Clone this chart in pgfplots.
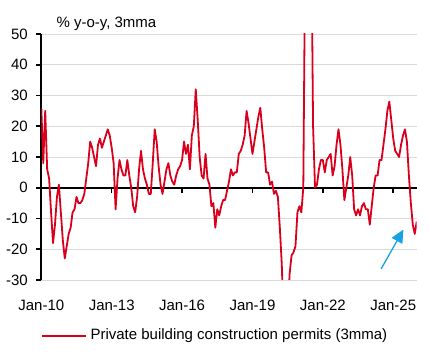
\documentclass[border=0pt]{standalone}
\usepackage{pgfplots}
\pgfplotsset{compat=1.18}
\usepackage{pgfplotstable}
\usepackage{fontspec}
\setmainfont{Liberation Sans}
\usetikzlibrary{arrows.meta}
\definecolor{serred}{RGB}{218,0,29}
\definecolor{gridgray}{RGB}{217,217,217}
\definecolor{arrowblue}{RGB}{22,163,230}
\pgfplotstableread{
m v
0 26
1 8
2 25
3 6
4 3
5 -8
6 -18
7 -12
8 -3
9 1
10 -8
11 -17
12 -23
13 -19
14 -15
15 -13
16 -8
17 -7
18 -3
19 -5
20 -5
21 -4
22 -2
23 3
24 8
25 15
26 13
27 10
28 7
29 14
30 16
31 13
32 15
33 17
34 19
35 17
36 13
37 8
38 -7
39 3
40 9
41 6
42 4
43 4
44 9
45 4
46 0
47 -6
48 -8
49 -3
50 6
51 12
52 6
53 3
54 1
55 -2
56 -2
57 8
58 19
59 15
60 7
61 1
62 -2
63 2
64 6
65 8
66 4
67 2
68 1
69 4
70 6
71 7
72 9
73 15
74 11
75 14
76 6
77 17
78 20
79 32
80 22
81 10
82 4
83 3
84 11
85 3
86 1
87 -6
88 -5
89 -13
90 -7
91 -9
92 -6
93 -4
94 -4
95 -1
96 2
97 6
98 4
99 5
100 5
101 11
102 12
103 14
104 17
105 25
106 21
107 16
108 11
109 15
110 19
111 23
112 26
113 19
114 13
115 5
116 5
117 1
118 2
119 -2
120 -1
121 -3
122 -13
123 -25
124 -45
125 -50
126 -42
127 -28
128 -22
129 -21
130 -19
131 -8
132 -6
133 -8
134 0
135 80
136 110
137 100
138 90
139 20
140 0
141 1
142 6
143 9
144 9
145 5
146 9
147 10
148 11
149 4
150 7
151 14
152 19
153 14
154 6
155 -4
156 0
157 4
158 10
159 4
160 -7
161 -9
162 -7
163 -9
164 -6
165 -5
166 -7
167 -7
168 -12
169 -6
170 0
171 4
172 4
173 9
174 9
175 14
176 19
177 25
178 28
179 22
180 16
181 12
182 11
183 10
184 14
185 17
186 19
187 15
188 4
189 -5
190 -12
191 -15
192 -11
}\permits
\begin{document}
\begin{tikzpicture}
\useasboundingbox (-41.3pt,-75pt) rectangle (388.7pt,280pt);
\begin{axis}[
  at={(0pt,0pt)}, anchor=south west,
  scale only axis, width=375.4pt, height=246pt,
  xmin=0, xmax=192, ymin=-30, ymax=50,
  axis y line=left, axis x line=middle,
  axis line style={-, black, line width=1.6pt},
  hide obscured x ticks=false, hide obscured y ticks=false,
  ytick={-30,-20,...,50},
  xtick={0,36,72,108,144,180},
  xticklabels={Jan-10,Jan-13,Jan-16,Jan-19,Jan-22,Jan-25},
  ymajorgrids, grid style={gridgray, line width=0.9pt},
  tick align=outside, major tick length=5pt,
  tick style={black, line width=1.6pt},
  /pgf/number format/assume math mode=true,
  tick label style={font=\fontsize{15}{18}\selectfont},
  xticklabel style={anchor=base, yshift=-118pt},
  yticklabel style={anchor=east, xshift=-5pt},
]
\addplot[serred, line width=1.8pt, line join=round] table[x=m, y=v] {\permits};
\draw[arrowblue, line width=1.3pt, -{Triangle[length=13pt, width=12pt]}] (axis cs:173.8,-26.4) -- (axis cs:185.2,-13.6);
\end{axis}
\node[anchor=base west, font=\fontsize{15}{18}\selectfont] at (11.7pt,252.7pt) {\% y-o-y, 3mma};
\draw[serred, line width=1.8pt] (0.7pt,-55.7pt) -- (44.7pt,-55.7pt);
\node[anchor=west, inner sep=0pt, font=\fontsize{15}{18}\selectfont] at (49pt,-55.7pt) {Private building construction permits (3mma)};
\end{tikzpicture}
\end{document}
